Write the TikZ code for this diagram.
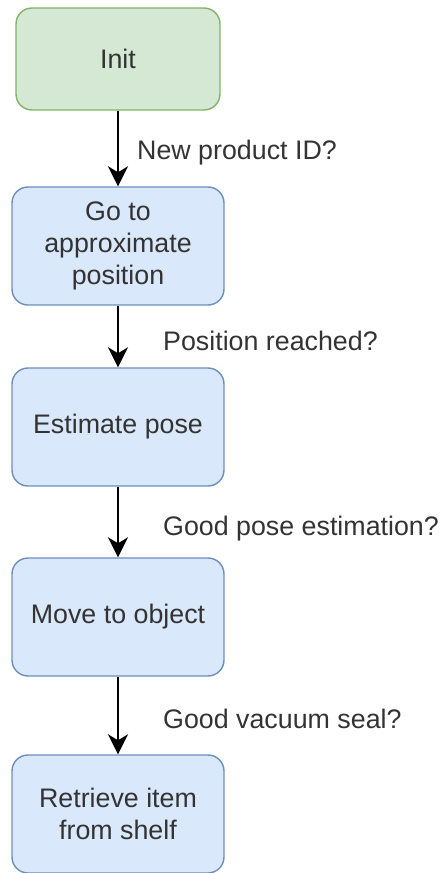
\documentclass[tikz,border=0pt]{standalone}
\usepackage{fontspec}
\setmainfont{Liberation Sans}
\usetikzlibrary{arrows.meta}
\definecolor{greenfill}{HTML}{D5E8D4}
\definecolor{greenline}{HTML}{82B366}
\definecolor{bluefill}{HTML}{DAE8FC}
\definecolor{blueline}{HTML}{6C8EBF}
\definecolor{txt}{HTML}{333333}
\tikzset{
  box/.style={draw, line width=1.4pt, rounded corners=16pt, align=center,
    inner sep=0pt, text=txt, font=\fontsize{26.8pt}{32pt}\selectfont},
  initbox/.style={box, fill=greenfill, draw=greenline, minimum width=204pt, minimum height=102pt},
  statebox/.style={box, fill=bluefill, draw=blueline, minimum width=212pt, minimum height=118pt},
  conn/.style={line width=2.2pt, -{Stealth[length=20pt,width=20pt,inset=6pt]}},
  lbl/.style={anchor=base west, inner sep=0pt, text=txt, font=\fontsize{26.8pt}{32pt}\selectfont}
}
\begin{document}
\begin{tikzpicture}[x=1pt,y=-1pt]
\useasboundingbox (0,0) rectangle (443,873);
\node[initbox] (init) at (118,59) {Init};
\node[statebox] (go) at (118,246) {Go to\\approximate\\position};
\node[statebox] (est) at (118,427) {Estimate pose};
\node[statebox] (move) at (118,617) {Move to object};
\node[statebox] (ret) at (118,814) {Retrieve item\\from shelf};
\draw[conn] (init) -- (go);
\draw[conn] (go) -- (est);
\draw[conn] (est) -- (move);
\draw[conn] (move) -- (ret);
\node[lbl] (l1) at (137,159) {New product ID?};
\node[lbl] (l2) at (163,350) {Position reached?};
\node[lbl] (l3) at (163,535) {Good pose estimation?};
\node[lbl] (l4) at (163,728) {Good vacuum seal?};
\end{tikzpicture}
\end{document}
